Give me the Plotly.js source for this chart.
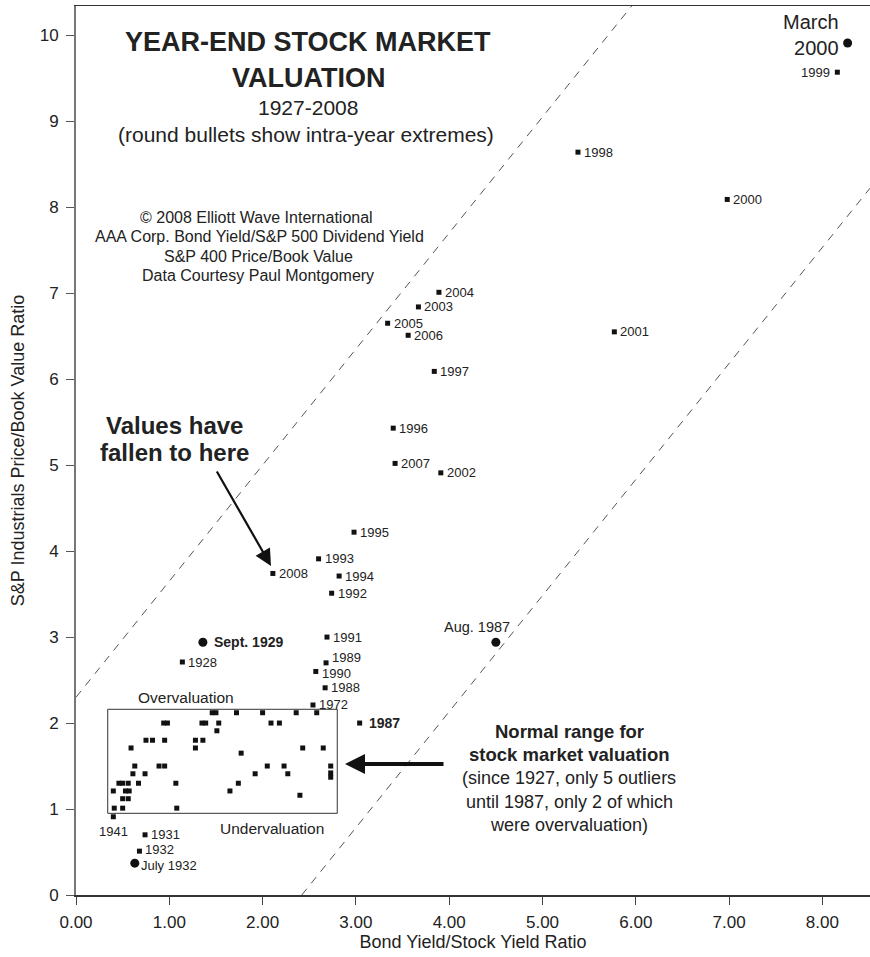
<!DOCTYPE html>
<html><head><meta charset="utf-8">
<script src="https://cdn.plot.ly/plotly-3.0.1.min.js"></script>
<style>html,body{margin:0;padding:0;background:#fff}</style>
</head><body><div id="chart" style="width:870px;height:957px"></div>
<script>
// ---- DATA ----
// Year-end readings that carry a year label
const yearLabels = ['1928','1931','1932','1941','1972','1987','1988','1989','1990','1991','1992','1993','1994','1995','1996','1997','1998','1999','2000','2001','2002','2003','2004','2005','2006','2007','2008'];
const yearBondStock = [1.14,0.74,0.68,0.40,2.54,3.04,2.67,2.68,2.57,2.69,2.74,2.60,2.82,2.98,3.40,3.84,5.38,8.16,6.98,5.77,3.91,3.67,3.89,3.34,3.56,3.42,2.11];
const yearPriceBook = [2.71,0.70,0.51,0.91,2.21,2.00,2.41,2.70,2.60,3.00,3.51,3.91,3.71,4.22,5.43,6.09,8.64,9.57,8.09,6.55,4.91,6.84,7.01,6.65,6.51,5.02,3.74];

// Unlabelled year-end readings inside the normal range (1927-1986)
const normalBondStock = [1.46,1.50,1.72,2.00,2.36,2.58, 0.94,0.98,1.35,1.39,1.53,2.09,2.18, 1.51, 0.75,0.82,0.95,1.28,1.36, 0.59,1.28,2.43,2.65, 1.77, 0.63,0.89,0.95,2.05,2.23,2.73, 0.61,0.74,1.92,2.27,2.73,2.73, 0.46,0.50,0.56,0.67,1.07,1.74, 0.40,0.53,0.57,1.65, 2.40, 0.50,0.56, 0.41,0.50,1.08];
const normalPriceBook = [2.12,2.12,2.12,2.12,2.12,2.12, 2.00,2.00,2.00,2.00,2.00,2.00,2.00, 1.91, 1.80,1.80,1.80,1.80,1.80, 1.71,1.71,1.71,1.71, 1.65, 1.50,1.50,1.50,1.50,1.50,1.50, 1.41,1.41,1.41,1.41,1.42,1.37, 1.30,1.30,1.30,1.30,1.30,1.30, 1.21,1.21,1.21,1.21, 1.16, 1.12,1.12, 1.01,1.01,1.01];

// Intra-year extremes (round bullets)
const extremeLabels = ['March<br>2000','Aug. 1987','Sept. 1929','July 1932'];
const extremeBondStock = [8.27,4.50,1.36,0.63];
const extremePriceBook = [9.91,2.94,2.94,0.37];

// Valuation band (dashed lines) and normal range box
const bandSlope = 1.35;
const upperBandIntercept = 2.30;
const lowerBandXIntercept = 2.42;
const normalBoxX = [0.34, 2.80];
const normalBoxY = [0.95, 2.16];

const xTickVals = [0,1,2,3,4,5,6,7,8];
const yTickVals = [0,1,2,3,4,5,6,7,8,9,10];

// ---- LAYOUT ----
const FONT = 'Liberation Sans, Arial, Helvetica, sans-serif';
const TXT = '#222';
const W = 870, H = 957, ML = 76, MR = 0, MT = 6, MB = 62;
const XR = [0, 8.51], YR = [0, 10.34];
const PW = W - ML - MR, PH = H - MT - MB;
const px = v => (v - ML) / PW;          // pixel -> paper x
const py = v => (H - MB - v) / PH;      // pixel -> paper y

const upperX = [XR[0], (YR[1] - upperBandIntercept) / bandSlope];
const upperY = upperX.map(x => upperBandIntercept + bandSlope * x);
const lowerX = [lowerBandXIntercept, XR[1]];
const lowerY = lowerX.map(x => bandSlope * (x - lowerBandXIntercept));

const traces = [
  {x: upperX, y: upperY, mode: 'lines', line: {color: '#555', width: 1, dash: '8px,7px'}, hoverinfo: 'skip'},
  {x: lowerX, y: lowerY, mode: 'lines', line: {color: '#555', width: 1, dash: '8px,7px'}, hoverinfo: 'skip'},
  {x: normalBondStock, y: normalPriceBook, mode: 'markers', marker: {symbol: 'square', size: 5, color: '#111'}},
  {x: yearBondStock, y: yearPriceBook, mode: 'markers', marker: {symbol: 'square', size: 5, color: '#111'}, cliponaxis: false},
  {x: extremeBondStock, y: extremePriceBook, mode: 'markers', marker: {symbol: 'circle', size: 9, color: '#111'}, cliponaxis: false}
];

// label placement tweaks (style only)
const labelStyle = {
  '1999': {xanchor: 'right', xshift: -5},
  '1941': {xanchor: 'center', yanchor: 'top', xshift: 0, yshift: -5},
  '1932': {yshift: 2},
  '1989': {yshift: 5},
  '1990': {yshift: -2},
  '1987': {xshift: 7, bold: true, size: 14}
};
const yearAnnotations = yearLabels.map((lab, i) => {
  const s = labelStyle[lab] || {};
  return {x: yearBondStock[i], y: yearPriceBook[i], text: s.bold ? '<b>' + lab + '</b>' : lab, showarrow: false,
    xanchor: s.xanchor || 'left', yanchor: s.yanchor || 'middle', xshift: s.xshift !== undefined ? s.xshift : 4,
    yshift: s.yshift || 0, font: {family: FONT, size: s.size || 13, color: TXT}};
});

function note(text, x, y, size, opts) {
  return Object.assign({xref: 'paper', yref: 'paper', x: px(x), y: py(y), text: text, showarrow: false,
    xanchor: 'center', yanchor: 'middle', font: {family: FONT, size: size, color: TXT}}, opts || {});
}

const annotations = yearAnnotations.concat([
  note('<b>YEAR-END STOCK MARKET</b>', 308, 42, 27),
  note('<b>VALUATION</b>', 308, 78, 27),
  note('1927-2008', 308, 107, 21),
  note('(round bullets show intra-year extremes)', 306, 134, 21),
  note('© 2008 Elliott Wave International', 256, 218, 16),
  note('AAA Corp. Bond Yield/S&P 500 Dividend Yield', 259, 237, 16),
  note('S&P 400 Price/Book Value', 258, 256, 16),
  note('Data Courtesy Paul Montgomery', 258, 275, 16),
  note('<b>Values have</b>', 174, 425, 24),
  note('<b>fallen to here</b>', 174, 452, 24),
  note('<b>Normal range for</b>', 569, 731, 18.5),
  note('<b>stock market valuation</b>', 569, 754, 18.5),
  note('(since 1927, only 5 outliers', 569, 778, 18),
  note('until 1987, only 2 of which', 569, 802, 18),
  note('were overvaluation)', 569, 825, 18),
  note('Overvaluation', 186, 697, 15.5),
  note('Undervaluation', 272, 828, 15.5),
  // intra-year extreme labels, anchored to their points
  {x: extremeBondStock[0], y: extremePriceBook[0], text: extremeLabels[0], showarrow: false, xanchor: 'right', yanchor: 'middle',
   align: 'right', xshift: -7, yshift: 8, font: {family: FONT, size: 20, color: TXT}},
  {x: extremeBondStock[1], y: extremePriceBook[1], text: extremeLabels[1], showarrow: false, xanchor: 'center', yanchor: 'middle',
   xshift: -19, yshift: 15, font: {family: FONT, size: 14.5, color: TXT}},
  {x: extremeBondStock[2], y: extremePriceBook[2], text: '<b>' + extremeLabels[2] + '</b>', showarrow: false, xanchor: 'left', yanchor: 'middle',
   xshift: 9, font: {family: FONT, size: 14, color: TXT}},
  {x: extremeBondStock[3], y: extremePriceBook[3], text: extremeLabels[3], showarrow: false, xanchor: 'left', yanchor: 'middle',
   xshift: 4, yshift: -2, font: {family: FONT, size: 13, color: TXT}},
  // arrows
  {xref: 'paper', yref: 'paper', x: px(271), y: py(566), ax: -55, ay: -96, axref: 'pixel', ayref: 'pixel', text: '',
   showarrow: true, arrowhead: 2, arrowsize: 1.5, arrowwidth: 2.2, arrowcolor: '#111', standoff: 0},
  {xref: 'paper', yref: 'paper', x: px(345), y: py(764), ax: 100, ay: 0, axref: 'pixel', ayref: 'pixel', text: '',
   showarrow: true, arrowhead: 2, arrowsize: 1, arrowwidth: 4, arrowcolor: '#111', standoff: 0}
]);

const layout = {
  width: W, height: H, margin: {l: ML, r: MR, t: MT, b: MB},
  paper_bgcolor: '#fff', plot_bgcolor: '#fff', showlegend: false,
  font: {family: FONT, color: TXT},
  xaxis: {range: XR, tickvals: xTickVals, ticktext: xTickVals.map(v => v.toFixed(2)), ticks: 'outside', ticklen: 8,
    tickcolor: '#444', showline: true, linecolor: '#333', linewidth: 1.5, mirror: true, showgrid: false, zeroline: false,
    ticklabelstandoff: 3,
    tickfont: {family: FONT, size: 17, color: TXT}, title: {text: 'Bond Yield/Stock Yield Ratio', font: {family: FONT, size: 18, color: TXT}, standoff: 4}},
  yaxis: {range: YR, tickvals: yTickVals, ticks: 'outside', ticklen: 8, tickcolor: '#555', showline: true, linecolor: '#777', linewidth: 2,
    showgrid: false, zeroline: false, ticklabelstandoff: 4,
    tickfont: {family: FONT, size: 17, color: TXT}, title: {text: 'S&P Industrials Price/Book Value Ratio', font: {family: FONT, size: 18, color: TXT}, standoff: 10}},
  shapes: [{type: 'rect', xref: 'x', yref: 'y', x0: normalBoxX[0], x1: normalBoxX[1], y0: normalBoxY[0], y1: normalBoxY[1],
    line: {color: '#333', width: 1}}],
  annotations: annotations
};

Plotly.newPlot('chart', traces, layout, {displayModeBar: false, staticPlot: true});
</script></body></html>
